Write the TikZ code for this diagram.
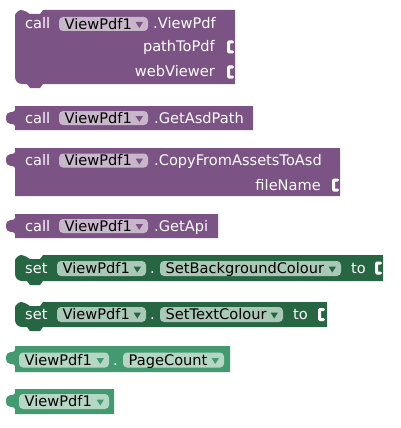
\documentclass[tikz,border=0pt]{standalone}
\usepackage{fontspec}
\setmainfont{DejaVu Sans}
\definecolor{mpurple}{HTML}{7C5385}
\definecolor{pfield}{HTML}{C8B7CB}
\definecolor{parrow}{HTML}{7C5385}
\definecolor{setgreen}{HTML}{266643}
\definecolor{sfield}{HTML}{A9C9B6}
\definecolor{sarrow}{HTML}{266643}
\definecolor{getgreen}{HTML}{439970}
\definecolor{gfield}{HTML}{B4D7C4}
\definecolor{garrow}{HTML}{439970}
\tikzset{
  wtext/.style={inner sep=0pt, anchor=base west, text=white, font=\fontsize{14.6}{16}\selectfont},
  wtextr/.style={wtext, anchor=base east},
  btext/.style={inner sep=0pt, anchor=base west, text=black, font=\fontsize{14.6}{16}\selectfont},
}
% field: name, x1, x2, yc, h, text, prefix
\newcommand\blkfld[7]{%
  \fill[#7field, rounded corners=4] (#2,#4-#5/2) rectangle (#3,#4+#5/2);
  \node[btext] (#1) at (#2+5.5,#4+5.2) {#6};
  \fill[#7arrow] (#3-12.5,#4-2) -- (#3-5,#4-2) -- (#3-8.75,#4+4) -- cycle;
}
% statement block: L T R B colour
\newcommand\stmtblk[5]{%
  \fill[#5] (#1,#2+10) [rounded corners=7] -- (#1,#2) -- (#1+12,#2) [sharp corners]
    -- (#1+15,#2+4) -- (#1+25,#2+4) -- (#1+28,#2) -- (#3,#2) -- (#3,#4)
    -- (#1+28,#4) -- (#1+25,#4+4) -- (#1+15,#4+4) -- (#1+12,#4) [rounded corners=7]
    -- (#1,#4) -- (#1,#2+10) -- cycle;
}
% output block: L T R B colour
\newcommand\outblk[5]{%
  \fill[#5] (#1,#2) -- (#3,#2) -- (#3,#4) -- (#1,#4) -- (#1,#2+20)
    .. controls (#1,#2+16) and (#1-9,#2+21) .. (#1-9,#2+12)
    .. controls (#1-9,#2+3) and (#1,#2+8) .. (#1,#2+4) -- cycle;
}
% empty socket: right edge R, centre y
\newcommand\sockt[2]{%
  \fill[white] (#1-8,#2-6.5) [rounded corners=1.5] -- (#1-1,#2-6.5) -- (#1-1,#2-3.5)
    [sharp corners] -- (#1-5,#2-3.5) -- (#1-5,#2+3.5) [rounded corners=1.5] -- (#1-1,#2+3.5)
    -- (#1-1,#2+6.5) -- (#1-8,#2+6.5) -- cycle;
}
\begin{document}
\begin{tikzpicture}[x=1pt,y=-1pt]
\useasboundingbox (0,0) rectangle (401,428);
% ---- block 1: call ViewPdf
\stmtblk{15}{10}{235}{84}{mpurple}
\node[wtext] (c1) at (25,29) {call};
\blkfld{f1}{59}{148}{24}{14}{ViewPdf1}{p}
\node[wtext] (m1) at (153,29) {.ViewPdf};
\node[wtextr] (a1) at (215,52) {pathToPdf};
\node[wtextr] (a2) at (215,77) {webViewer};
\sockt{235}{47}
\sockt{235}{72}
% ---- block 2: GetAsdPath
\outblk{15}{106}{253}{130}{mpurple}
\node[wtext] (c2) at (25,123) {call};
\blkfld{f2}{59}{148}{118}{14}{ViewPdf1}{p}
\node[wtext] (m2) at (154,123) {.GetAsdPath};
% ---- block 3: CopyFromAssetsToAsd
\outblk{15}{148}{340}{196}{mpurple}
\node[wtext] (c3) at (25,165.5) {call};
\blkfld{f3}{59}{148}{160.5}{14}{ViewPdf1}{p}
\node[wtext] (m3) at (154,165.5) {.CopyFromAssetsToAsd};
\node[wtextr] (a3) at (321,190) {fileName};
\sockt{340}{185}
% ---- block 4: GetApi
\outblk{15}{214}{218}{238}{mpurple}
\node[wtext] (c4) at (25,231) {call};
\blkfld{f4}{59}{148}{226}{14}{ViewPdf1}{p}
\node[wtext] (m4) at (154,231) {.GetApi};
% ---- block 5: set SetBackgroundColour
\stmtblk{15}{255}{383}{281}{setgreen}
\node[wtext] (s5) at (25,273.5) {set};
\blkfld{f5}{57}{146}{268.5}{15}{ViewPdf1}{s}
\node[wtext] (d5) at (150,273.5) {.};
\blkfld{g5}{160}{341}{268.5}{15}{SetBackgroundColour}{s}
\node[wtext] (t5) at (351,273.5) {to};
\sockt{383}{268}
% ---- block 6: set SetTextColour
\stmtblk{15}{302}{327}{327}{setgreen}
\node[wtext] (s6) at (25,319.5) {set};
\blkfld{f6}{57}{146}{314.5}{15}{ViewPdf1}{s}
\node[wtext] (d6) at (150,319.5) {.};
\blkfld{g6}{160}{283}{314.5}{15}{SetTextColour}{s}
\node[wtext] (t6) at (293,319.5) {to};
\sockt{326}{314.5}
% ---- block 7: PageCount
\outblk{15}{346}{230}{372}{getgreen}
\blkfld{f7}{19}{109}{360}{15}{ViewPdf1}{g}
\node[wtext] (d7) at (113,365) {.};
\blkfld{g7}{123}{224}{360}{15}{PageCount}{g}
% ---- block 8: component
\outblk{15}{389}{114}{414}{getgreen}
\blkfld{f8}{19}{109}{401.5}{15}{ViewPdf1}{g}
\end{tikzpicture}
\end{document}
